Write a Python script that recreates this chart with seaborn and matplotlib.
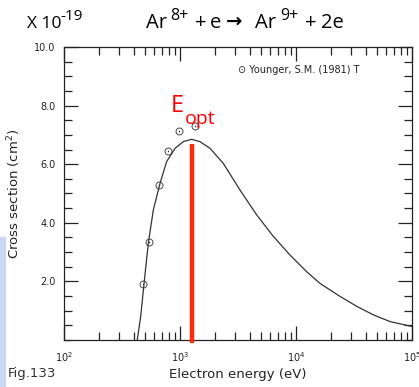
"""Ar8+ electron-impact ionization cross section (Younger 1981)."""

import matplotlib

matplotlib.use("Agg")
import matplotlib.pyplot as plt
import matplotlib.ticker as mticker
import numpy as np
import pandas as pd
import seaborn as sns

# fitted curve (energy in eV, sigma in 1e-19 cm^2)
curve_energy = [428, 458, 490, 533, 589, 673, 767, 906, 1067, 1259, 1486,
                1816, 2360, 3289, 4581, 6368, 8872, 12360, 16100, 23930,
                33340, 46340, 64570, 100000]
curve_sigma = [0.0, 0.80, 1.93, 3.30, 4.44, 5.35, 6.09, 6.54, 6.77, 6.85,
               6.77, 6.54, 6.03, 5.12, 4.27, 3.54, 2.90, 2.33, 1.93, 1.49,
               1.15, 0.86, 0.63, 0.46]

# Younger, S.M. (1981) data points
younger_energy = [483, 541, 664, 793, 986, 1340]
younger_sigma = [1.90, 3.35, 5.29, 6.46, 7.14, 7.31]
younger_label = "Younger, S.M. (1981) T"

E_OPT = 1276
E_OPT_TOP = 6.7

sns.set_style("ticks")
plt.rcParams["font.family"] = ["DejaVu Sans"]
plt.rcParams["text.color"] = "#1a1a1a"

curve = pd.DataFrame({"energy": curve_energy, "sigma": curve_sigma})
points = pd.DataFrame({"energy": younger_energy, "sigma": younger_sigma})

W, H = 419, 387
fig = plt.figure(figsize=(W / 100, H / 100), dpi=100)
ax = fig.add_axes([64 / W, 47 / H, 348 / W, 293 / H])

sns.lineplot(data=curve, x="energy", y="sigma", ax=ax, color="#333333",
             linewidth=0.9, sort=False)
sns.scatterplot(data=points, x="energy", y="sigma", ax=ax, marker=r"$\odot$",
                s=32, color="#333333", linewidth=0, legend=False)

ax.vlines(E_OPT, -0.1, E_OPT_TOP, color="#ff2a0a", linewidth=3.2,
          clip_on=False, zorder=5)

ax.set_xscale("log")
ax.set_xlim(100, 100000)
ax.set_ylim(0, 10)
ax.yaxis.set_major_locator(mticker.FixedLocator([2, 4, 6, 8, 10]))
ax.yaxis.set_minor_locator(mticker.MultipleLocator(0.5))
ax.yaxis.set_major_formatter(mticker.FormatStrFormatter("%.1f"))
ax.xaxis.set_minor_locator(mticker.LogLocator(base=10, subs=np.arange(2, 10)))
ax.xaxis.set_minor_formatter(mticker.NullFormatter())

ax.tick_params(which="both", direction="in", top=True, right=True,
               colors="#222222", labelsize=7, width=0.9)
ax.tick_params(which="major", length=10)
ax.tick_params(which="minor", length=5.5)
ax.tick_params(axis="x", which="major", pad=7)
ax.tick_params(axis="y", which="major", pad=6)
for sp in ax.spines.values():
    sp.set_linewidth(0.9)
    sp.set_color("#222222")

ax.set_xlabel("Electron energy (eV)", fontsize=9.5, labelpad=3, color="#222222")
ax.set_ylabel("Cross section (cm$^2$)", fontsize=9.5, labelpad=8,
              color="#222222")


def px_text(x, y, s, size, **kw):
    """Place text by pixel position (from top-left), baseline at y."""
    kw.setdefault("family", ["Open Sans", "DejaVu Sans"])
    kw.setdefault("color", "black")
    fig.text(x / W, 1 - y / H, s, fontsize=size, va="baseline", ha="left", **kw)


# legend-style key for the data points
px_text(238, 73, "⊙ " + younger_label, 7, color="#222222",
        family="DejaVu Sans")

# E_opt label
px_text(171, 112, "E", 17, color="red")
px_text(185, 123.5, "opt", 14, color="red")

# header: X 10^-19
px_text(27, 27.5, "X 10", 12.5)
px_text(60, 20.5, "-19", 11)

# header: Ar8+ + e -> Ar9+ + 2e
MAIN, SUP, BASE, SUPBASE = 14.5, 11.5, 27.5, 20.5
px_text(146, BASE, "Ar", MAIN)
px_text(170, SUPBASE, "8+", SUP)
px_text(195, BASE, "+", MAIN)
px_text(210, BASE, "e", MAIN)
px_text(226, BASE - 1, "→", 14, family="DejaVu Sans", fontweight="bold")
px_text(255, BASE, "Ar", MAIN)
px_text(280, SUPBASE, "9+", SUP)
px_text(305, BASE, "+", MAIN)
px_text(321, BASE, "2e", MAIN)

px_text(8, 377, "Fig.133", 9.5, color="#333333", family="DejaVu Sans")

fig.patches.append(plt.Rectangle((0, 0), 5 / W, 150 / H,
                                 transform=fig.transFigure,
                                 color="#c9d8f2", zorder=0))

fig.savefig("out.png", dpi=100)
